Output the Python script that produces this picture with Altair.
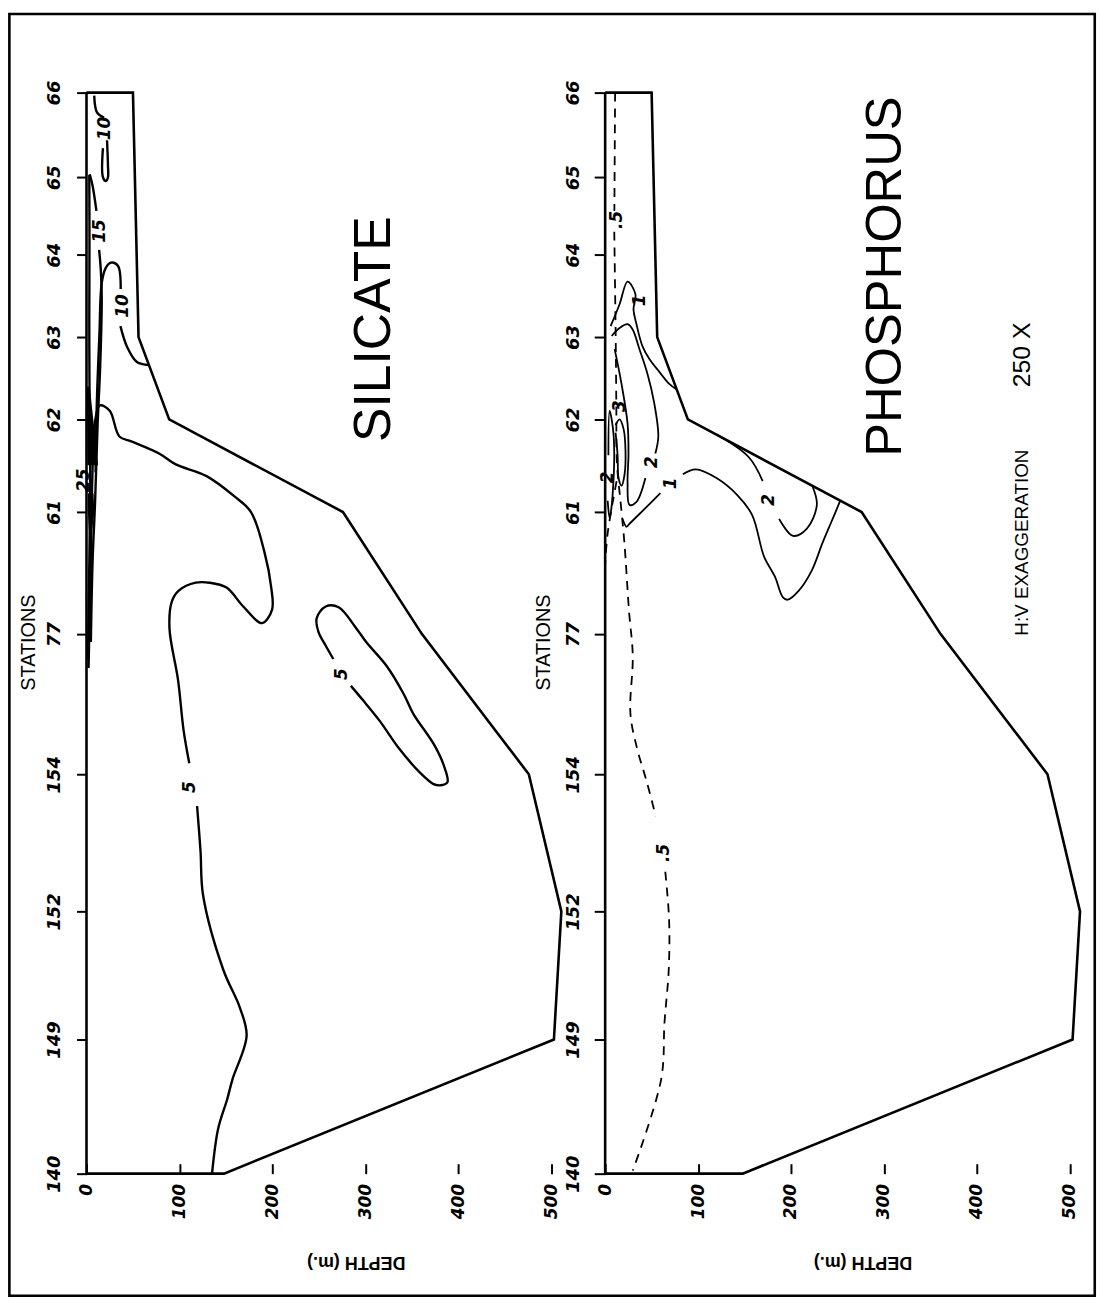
import altair as alt
import pandas as pd

# ---------------- data ----------------
station_names = ["66", "65", "64", "63", "62", "61", "77", "154", "152", "149", "140"]
station_km = [0, 22.4, 42.9, 64.7, 86.5, 111.0, 143.3, 180.4, 216.7, 250.6, 286.1]

bottom_km = [0, 64.7, 86.5, 111.0, 143.3, 180.4, 216.7, 250.6, 286.1]
bottom_depth = [50, 56, 89, 276, 361, 476, 511, 503, 148]

depth_ticks = [0, 100, 200, 300, 400, 500]

# silicate isolines (depth m, distance km)
si5_a_depth = [135.1, 141.6, 151.4, 157.0, 172.3, 165.1, 147.3, 125.5, 122.7, 119.0]
si5_a_km = [286.1, 274.3, 266.4, 261.2, 249.6, 242.2, 232.2, 212.5, 200.7, 188.8]
si5_b_depth = [110.6, 104.5, 98.5, 89.3, 91.8, 99.3, 117.5, 132.5, 150.7, 168.7, 188.9, 199.7,
               198.8, 191.7, 177.0, 158.9, 129.2, 96.1, 78.1, 48.2, 35.4, 25.0, 14.3, 8.9, 6.4, 4.6, 2.2]
si5_b_km = [177.5, 168.8, 155.4, 141.8, 134.7, 131.8, 129.7, 129.7, 131.0, 136.0, 140.4, 136.8,
            131.0, 121.8, 111.0, 106.8, 101.5, 98.4, 95.5, 92.3, 91.0, 84.2, 82.8, 87.6, 100.7, 124.4, 152.3]
si5_loop_depth = [265.6, 257.0, 249.7, 247.7, 257.4, 271.3, 290.4, 301.0, 323.2, 341.2, 351.7, 373.9,
                  384.4, 388.4, 381.0, 373.5, 358.6, 336.4, 315.3, 297.2, 284.5]
si5_loop_km = [149.9, 146.2, 142.8, 139.1, 136.0, 136.2, 141.8, 145.4, 151.8, 159.1, 164.4, 172.5,
               178.0, 182.5, 183.3, 183.0, 179.9, 173.6, 166.2, 160.7, 157.0]
si10_low_a_depth = [67.0, 54.3, 43.7, 36.5]
si10_low_a_km = [72.1, 71.3, 67.3, 61.8]
si10_low_b_depth = [36.8, 33.8, 26.3, 20.9, 16.5, 13.9, 11.1, 9.8]
si10_low_b_km = [52.0, 45.8, 45.0, 46.3, 50.2, 63.9, 82.3, 100.5]
si10_top_a_depth = [8.3, 11.4, 18.8]
si10_top_a_km = [0.8, 5.3, 6.6]
si10_top_b_depth = [22.1, 23.1, 23.1, 20.9, 17.7, 17.7]
si10_top_b_km = [12.6, 19.2, 22.4, 23.4, 22.4, 14.7]
si15_a_depth = [3.5, 6.6, 10.7]
si15_a_km = [21.6, 24.7, 31.3]
si15_b_depth = [13.6, 15.5, 16.4, 14.7, 12.0, 9.2, 6.5, 4.7]
si15_b_km = [41.6, 47.3, 54.4, 72.6, 87.6, 108.6, 124.4, 145.4]
si20_depth = [3.0, 3.2, 3.0, 3.2, 4.0, 3.0, 1.5]
si20_km = [21.8, 40.0, 60.0, 77.0, 100.0, 125.0, 150.0]
si25_a_km = [77.8, 98.6]
si25_a_lo = [0.5, 1.0]
si25_a_hi = [3.5, 12.5]
si25_b_km = [106.0, 111.0, 115.7]
si25_b_lo = [1.5, 1.5, 2.5]
si25_b_hi = [7.5, 8.5, 6.0]

si_label_text = ["5", "5", "10", "10", "15", "25"]
si_label_depth = [111.4, 274.8, 38.8, 20.0, 15.0, -2.7]
si_label_km = [183.8, 153.9, 56.5, 9.5, 36.6, 102.6]

# phosphorus isolines
ph_dash_a_depth = [10.7, 9.9]
ph_dash_a_km = [0.0, 31.3]
ph_dash_b_depth = [9.8, 11.3, 12.0, 12.7, 16.7, 20.7, 25.7, 29.7, 27.2, 34.4, 44.9, 54.4]
ph_dash_b_km = [36.8, 63.9, 82.3, 98.1, 108.6, 119.1, 137.3, 149.1, 164.4, 173.6, 182.5, 191.5]
ph_dash_c_depth = [64.7, 68.8, 68.4, 63.9, 60.2, 29.7]
ph_dash_c_km = [206.2, 218.8, 232.2, 245.9, 261.2, 285.3]
ph_dash_d_depth = [12.3, 8.0, 2.7, 0.0]
ph_dash_d_km = [102.8, 108.6, 116.6, 124.4]

ph1_up_depth = [5.9, 15.5, 24.1, 32.6, 30.5, 33.7, 40.1, 47.6, 58.3, 69.0, 77.0]
ph1_up_km = [61.8, 56.0, 50.0, 53.4, 57.3, 61.3, 67.1, 70.5, 73.9, 77.1, 78.6]
ph2_in_a_depth = [7.0, 15.5, 24.1, 29.4, 36.9, 45.5, 52.9, 57.2, 54.0]
ph2_in_a_km = [64.4, 62.3, 61.3, 62.6, 67.9, 74.4, 82.3, 91.0, 95.5]
ph2_in_b_depth = [43.3, 33.7, 26.2, 24.1, 25.1, 24.1, 17.6, 10.2]
ph2_in_b_km = [102.0, 108.3, 109.1, 103.3, 95.5, 87.6, 77.1, 67.9]
ph3_depth = [11.2, 15.5, 19.8, 21.9, 20.9, 17.6, 14.4, 13.4, 11.2]
ph3_km = [88.0, 86.5, 89.0, 95.0, 101.0, 104.0, 102.0, 96.0, 90.0]
ph2_sf_depth = [3.5, 4.8, 9.1, 8.0, 4.8, 2.7]
ph2_sf_km = [96.0, 84.2, 90.7, 106.5, 112.6, 108.0]
ph1_low_a_depth = [18.7, 23.0, 26.2, 39.0, 59.4]
ph1_low_a_km = [112.8, 114.9, 114.1, 111.0, 106.0]
ph1_low_b_depth = [83.6, 97.5, 119.8, 142.2, 158.2, 171.0, 182.7, 191.3, 196.6, 208.4, 222.3, 234.0, 243.6, 253.0]
ph1_low_b_km = [101.0, 99.7, 102.0, 106.5, 111.8, 122.8, 128.1, 133.6, 134.2, 131.8, 126.5, 119.1, 113.5, 108.0]
ph2_u_a_depth = [120.0, 154.6, 169.5]
ph2_u_a_km = [90.5, 96.5, 102.8]
ph2_u_b_depth = [187.2, 202.2, 217.1, 227.8, 223.0]
ph2_u_b_km = [112.8, 117.3, 115.4, 109.1, 104.1]

ph_label_text = [".5", ".5", "1", "2", "3", "2", "1", "2"]
ph_label_depth = [13.2, 63.7, 37.0, 50.8, 16.0, 2.6, 71.2, 176.5]
ph_label_km = [33.7, 201.2, 55.0, 97.8, 83.0, 101.8, 103.4, 107.8]

# ---------------- helpers ----------------
FONT = "Liberation Sans"
NUMFONT = "DejaVu Sans"
KM_MAX = 286.1
DEPTH_MAX = 525


def lines_df(pairs):
    rows = []
    for name, (d, k) in pairs.items():
        for i, (dd, kk) in enumerate(zip(d, k)):
            rows.append({"seg": name, "i": i, "depth": dd, "km": kk})
    return pd.DataFrame(rows)


outline = pd.DataFrame({
    "seg": "outline",
    "i": list(range(len(bottom_km) + 3)),
    "depth": [0] + bottom_depth + [0, 0],
    "km": [0] + bottom_km + [KM_MAX, 0],
})

label_expr = ("[" + ",".join(f"'{n}'" for n in station_names) + "][indexof(["
              + ",".join(str(v) for v in station_km) + "], datum.value)]")


def encodings(title_x, stations_x, label_pad, tick_size):
    xs = alt.Scale(domain=[0, DEPTH_MAX], nice=False, zero=False)
    ys = alt.Scale(domain=[0, KM_MAX], reverse=True, nice=False, zero=False)
    xax = alt.Axis(values=depth_ticks, title="DEPTH (m.)", titleAngle=180, titleX=title_x, titleY=98,
                   titleAlign="center", titleBaseline="middle", titleFont=FONT, titleFontSize=18,
                   titleFontWeight="bold", titleColor="black",
                   labelAngle=270, labelAlign="right", labelBaseline="middle", labelPadding=10,
                   labelFont=NUMFONT, labelFontSize=17, labelFontStyle="italic", labelFontWeight="bold",
                   labelColor="black", tickSize=10, tickWidth=2, tickColor="black", offset=-10,
                   domain=False, grid=False)
    yax = alt.Axis(values=station_km, labelExpr=label_expr, title="STATIONS", titleAngle=270,
                   titleX=stations_x, titleY=553, titleAlign="center", titleBaseline="middle",
                   titleFont=FONT, titleFontSize=20, titleFontWeight="normal", titleColor="black",
                   labelAngle=270, labelAlign="center", labelBaseline="bottom", labelPadding=label_pad,
                   labelFont=NUMFONT, labelFontSize=18, labelFontStyle="italic", labelFontWeight="bold",
                   labelColor="black", tickSize=tick_size, tickWidth=2, tickColor="black",
                   domain=False, grid=False)
    x = alt.X("depth:Q", scale=xs, axis=xax)
    y = alt.Y("km:Q", scale=ys, axis=yax)
    return x, y


def panel(x, y, solid, dashed, labels, texts, solid_width, areas=None, frame=False):
    layers = []
    if frame:
        fr = pd.DataFrame({"depth": [-83.0], "depth2": [1085.0], "km": [-20.8], "km2": [318.4]})
        layers.append(alt.Chart(fr).mark_rect(fillOpacity=0, stroke="black", strokeWidth=2.6).encode(
            x=x, x2="depth2:Q", y=y, y2="km2:Q"))
    layers.append(alt.Chart(outline).mark_line(color="black", strokeWidth=2.6, strokeJoin="miter").encode(
        x=x, y=y, order="i:Q", detail="seg:N"))
    if areas is not None:
        layers.append(alt.Chart(areas).mark_area(orient="horizontal", color="black").encode(
            x=x, x2="hi:Q", y=y, detail="seg:N"))
    layers.append(alt.Chart(solid).mark_line(color="black", strokeWidth=solid_width,
                                              interpolate="catmull-rom").encode(
        x=x, y=y, order="i:Q", detail="seg:N"))
    if dashed is not None:
        layers.append(alt.Chart(dashed).mark_line(color="black", strokeWidth=1.8, strokeDash=[9, 7],
                                                   interpolate="catmull-rom").encode(
            x=x, y=y, order="i:Q", detail="seg:N"))
    layers.append(alt.Chart(labels).mark_text(angle=270, font=NUMFONT, fontSize=17, fontStyle="italic",
                                              fontWeight="bold", color="black").encode(
        x=x, y=y, text="text:N"))
    for t in texts:
        df = pd.DataFrame({"depth": [t[1]], "km": [t[2]], "text": [t[0]]})
        layers.append(alt.Chart(df).mark_text(angle=270, font=FONT, fontSize=t[3], color="black").encode(
            x=x, y=y, text="text:N"))
    return alt.layer(*layers).properties(width=491, height=1088)


# ---------------- silicate ----------------
x1, y1 = encodings(271, -58, 13, 10)
si_solid = lines_df({
    "5a": (si5_a_depth, si5_a_km), "5b": (si5_b_depth, si5_b_km),
    "5loop": (si5_loop_depth, si5_loop_km),
    "10la": (si10_low_a_depth, si10_low_a_km), "10lb": (si10_low_b_depth, si10_low_b_km),
    "10ta": (si10_top_a_depth, si10_top_a_km), "10tb": (si10_top_b_depth, si10_top_b_km),
    "15a": (si15_a_depth, si15_a_km), "15b": (si15_b_depth, si15_b_km),
    "20": (si20_depth, si20_km),
})
si_areas = pd.concat([
    pd.DataFrame({"seg": "25a", "km": si25_a_km, "depth": si25_a_lo, "hi": si25_a_hi}),
    pd.DataFrame({"seg": "25b", "km": si25_b_km, "depth": si25_b_lo, "hi": si25_b_hi}),
])
si_labels = pd.DataFrame({"text": si_label_text, "depth": si_label_depth, "km": si_label_km})
silicate = panel(x1, y1, si_solid, None, si_labels, [("SILICATE", 309, 62.6, 52)], 2.4,
                 areas=si_areas, frame=True)

# ---------------- phosphorus ----------------
x2, y2 = encodings(259, -62, 12, 11)
ph_solid = lines_df({
    "1u": (ph1_up_depth, ph1_up_km),
    "2ia": (ph2_in_a_depth, ph2_in_a_km), "2ib": (ph2_in_b_depth, ph2_in_b_km),
    "3": (ph3_depth, ph3_km), "2s": (ph2_sf_depth, ph2_sf_km),
    "1la": (ph1_low_a_depth, ph1_low_a_km), "1lb": (ph1_low_b_depth, ph1_low_b_km),
    "2ua": (ph2_u_a_depth, ph2_u_a_km), "2ub": (ph2_u_b_depth, ph2_u_b_km),
})
ph_dashed = lines_df({
    "a": (ph_dash_a_depth, ph_dash_a_km), "b": (ph_dash_b_depth, ph_dash_b_km),
    "c": (ph_dash_c_depth, ph_dash_c_km), "d": (ph_dash_d_depth, ph_dash_d_km),
})
ph_labels = pd.DataFrame({"text": ph_label_text, "depth": ph_label_depth, "km": ph_label_km})
phosphorus = panel(x2, y2, ph_solid, ph_dashed, ph_labels,
                   [("PHOSPHORUS", 302.7, 48.7, 51), ("250 X", 449, 69.4, 25),
                    ("H:V  EXAGGERATION", 449, 119.1, 19)], 1.8)

chart = alt.hconcat(silicate, phosphorus, spacing=31, bounds="flush").properties(
    padding={"left": 0, "top": 0, "right": 0, "bottom": 0}, background="white",
    autosize=alt.AutoSizeParams(type="pad")
).configure_view(strokeWidth=0)

chart.save("out.html", embed_options={"renderer": "svg", "actions": False})
